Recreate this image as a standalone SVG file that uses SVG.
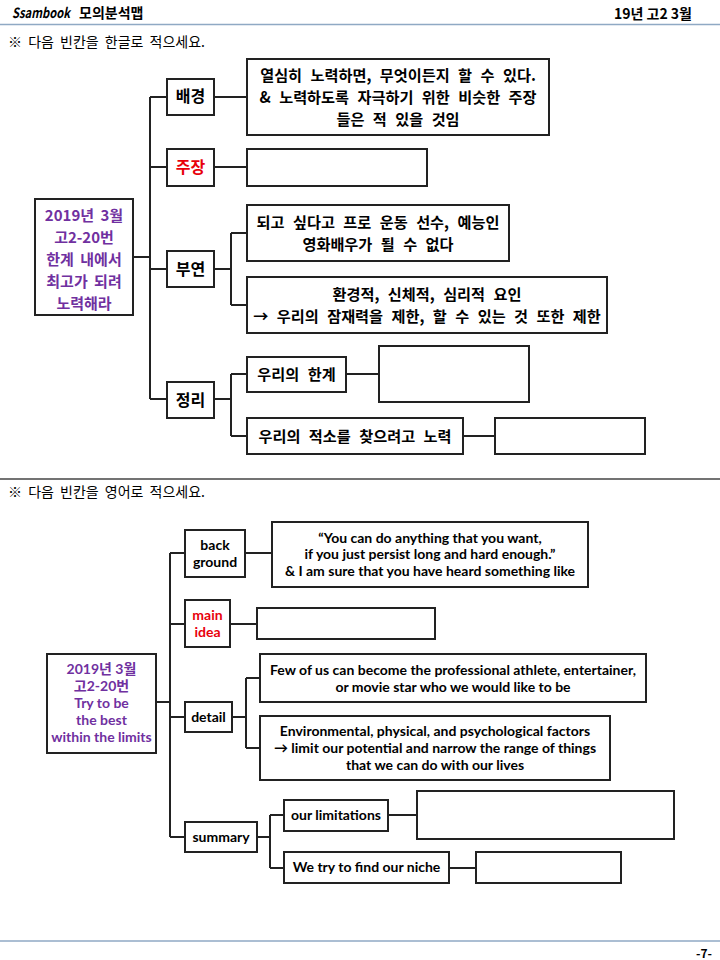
<svg xmlns="http://www.w3.org/2000/svg" width="720" height="960" viewBox="0 0 720 960">
<style>
.b{fill:#fff;stroke:#222;stroke-width:2}
.c{fill:none;stroke:#222;stroke-width:2}
text{font-family:"Noto Sans CJK KR","Malgun Gothic",sans-serif;font-weight:bold;fill:#000}
.k{font-size:15.2px;text-anchor:middle;word-spacing:5px}
.e{font-family:"Lato","Noto Sans CJK KR",sans-serif;font-size:14px;text-anchor:middle}
.p{fill:#7030a0}
.r{fill:#e8000b}
.n{font-weight:normal;font-size:14px;word-spacing:3px}
</style>
<rect width="720" height="960" fill="#fff"/>
<g id="header">
<text x="12" y="18" font-size="14" font-style="italic" font-family="Liberation Sans,sans-serif" textLength="58" lengthAdjust="spacingAndGlyphs">Ssambook</text>
<text x="79" y="18" font-size="14">모의분석맵</text>
<text x="692" y="19" font-size="14" text-anchor="end">19년 고2 3월</text>
<line x1="0" y1="24.5" x2="720" y2="24.5" stroke="#8fa9c4" stroke-width="1.5"/>
<text x="8" y="47" class="n">※ 다음 빈칸을 한글로 적으세요.</text>
<line x1="0" y1="479" x2="720" y2="479" stroke="#444" stroke-width="1.5"/>
<text x="8" y="497" class="n">※ 다음 빈칸을 영어로 적으세요.</text>
<line x1="0" y1="941" x2="720" y2="941" stroke="#8fa9c4" stroke-width="1.5"/>
<text x="712" y="958" font-size="12" font-weight="normal" text-anchor="end">-7-</text>
</g>
<g id="connectors">
<path class="c" d="M133 257H150M150 97V399M150 97H167M150 167H167M150 269H167M150 399H167"/>
<path class="c" d="M214 97H247M214 167H247M214 269H231M231 233V305M231 233H247M231 305H247"/>
<path class="c" d="M214 399H231M231 374V436M231 374H247M231 436H247M346 374H379M463 436H495"/>
<path class="c" d="M156 702H170M170 553V837M170 553H185M170 624H185M170 717H185M170 837H185"/>
<path class="c" d="M245 553H272M230 624H257M232 717H246M246 678V748M246 678H260M246 748H260"/>
<path class="c" d="M257 837H270M270 815V868M270 815H284M270 868H284M388 815H417M449 868H476"/>
</g>
<g id="root1"><rect class="b" x="35" y="199" width="98" height="116"/>
<text class="k p" style="font-size:15px;word-spacing:3px"><tspan x="84" y="221">2019년 3월</tspan><tspan x="84" y="243">고2-20번</tspan><tspan x="84" y="265">한계 내에서</tspan><tspan x="84" y="287">최고가 되려</tspan><tspan x="84" y="309">노력해라</tspan></text></g>
<g id="n-bg"><rect class="b" x="167" y="79" width="47" height="36"/><text class="k" x="190.5" y="102" style="font-size:16px">배경</text></g>
<g id="n-bg-c"><rect class="b" x="247" y="59" width="302" height="76"/>
<text class="k"><tspan x="398" y="81">열심히 노력하면, 무엇이든지 할 수 있다.</tspan><tspan x="398" y="103">&amp; 노력하도록 자극하기 위한 비슷한 주장</tspan><tspan x="398" y="125">들은 적 있을 것임</tspan></text></g>
<g id="n-main"><rect class="b" x="167" y="149" width="47" height="37"/><text class="k r" x="190.5" y="173" style="font-size:16px">주장</text></g>
<g id="n-main-c"><rect class="b" x="247" y="149" width="180" height="37"/></g>
<g id="n-sup"><rect class="b" x="167" y="251" width="47" height="36"/><text class="k" x="190.5" y="275" style="font-size:16px">부연</text></g>
<g id="n-sup1"><rect class="b" x="247" y="205" width="262" height="56"/>
<text class="k"><tspan x="378" y="228">되고 싶다고 프로 운동 선수, 예능인</tspan><tspan x="378" y="250">영화배우가 될 수 없다</tspan></text></g>
<g id="n-sup2"><rect class="b" x="247" y="277" width="360" height="56"/>
<text class="k"><tspan x="427" y="300">환경적, 신체적, 심리적 요인</tspan><tspan x="427" y="322">→ 우리의 잠재력을 제한, 할 수 있는 것 또한 제한</tspan></text></g>
<g id="n-sum"><rect class="b" x="167" y="382" width="47" height="36"/><text class="k" x="190.5" y="406" style="font-size:16px">정리</text></g>
<g id="n-sum1"><rect class="b" x="247" y="357" width="99" height="35"/><text class="k" x="296.5" y="380">우리의 한계</text></g>
<g id="n-sum1-c"><rect class="b" x="379" y="346" width="150" height="56"/></g>
<g id="n-sum2"><rect class="b" x="247" y="418" width="216" height="36"/><text class="k" x="355" y="442">우리의 적소를 찾으려고 노력</text></g>
<g id="n-sum2-c"><rect class="b" x="495" y="418" width="150" height="36"/></g>
<g id="root2"><rect class="b" x="47" y="654" width="109" height="99"/>
<text class="e p"><tspan x="101.5" y="674">2019년 3월</tspan><tspan x="101.5" y="691">고2-20번</tspan><tspan x="101.5" y="708">Try to be</tspan><tspan x="101.5" y="725">the best</tspan><tspan x="101.5" y="742">within the limits</tspan></text></g>
<g id="e-bg"><rect class="b" x="185" y="530" width="60" height="47"/><text class="e"><tspan x="215" y="550">back</tspan><tspan x="215" y="567">ground</tspan></text></g>
<g id="e-bg-c"><rect class="b" x="272" y="522" width="316" height="65"/>
<text class="e"><tspan x="430" y="543">“You can do anything that you want,</tspan><tspan x="430" y="559">if you just persist long and hard enough.”</tspan><tspan x="430" y="576">&amp; I am sure that you have heard something like</tspan></text></g>
<g id="e-main"><rect class="b" x="185" y="600" width="45" height="47"/><text class="e r"><tspan x="207.5" y="620">main</tspan><tspan x="207.5" y="637">idea</tspan></text></g>
<g id="e-main-c"><rect class="b" x="257" y="608" width="178" height="31"/></g>
<g id="e-det"><rect class="b" x="185" y="702" width="47" height="30"/><text class="e" x="208.5" y="722">detail</text></g>
<g id="e-det1"><rect class="b" x="260" y="654" width="386" height="48"/>
<text class="e"><tspan x="453" y="675">Few of us can become the professional athlete, entertainer,</tspan><tspan x="453" y="692">or movie star who we would like to be</tspan></text></g>
<g id="e-det2"><rect class="b" x="260" y="716" width="350" height="64"/>
<text class="e"><tspan x="435" y="736">Environmental, physical, and psychological factors</tspan><tspan x="435" y="753">→ limit our potential and narrow the range of things</tspan><tspan x="435" y="770">that we can do with our lives</tspan></text></g>
<g id="e-sum"><rect class="b" x="185" y="822" width="72" height="30"/><text class="e" x="221" y="842">summary</text></g>
<g id="e-sum1"><rect class="b" x="284" y="800" width="104" height="31"/><text class="e" x="336" y="820">our limitations</text></g>
<g id="e-sum1-c"><rect class="b" x="417" y="791" width="257" height="48"/></g>
<g id="e-sum2"><rect class="b" x="284" y="852" width="165" height="31"/><text class="e" x="366.5" y="872">We try to find our niche</text></g>
<g id="e-sum2-c"><rect class="b" x="476" y="852" width="145" height="31"/></g>
</svg>
